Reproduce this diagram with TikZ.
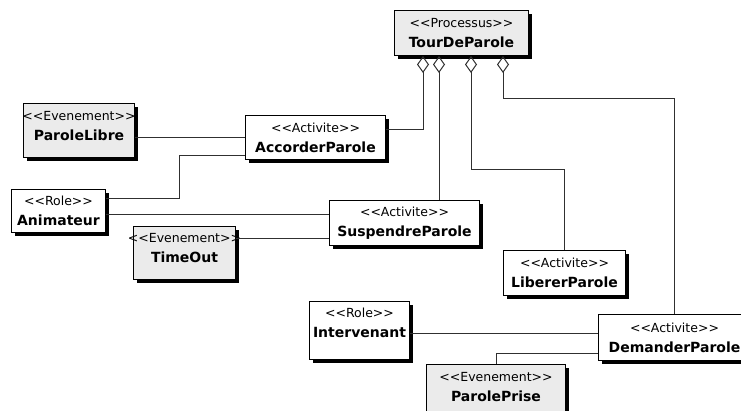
\documentclass[tikz,border=0pt]{standalone}
\usepackage{fontspec}
\newfontfamily\umlfont[Ligatures=TeXOff]{DejaVu Sans}
\usetikzlibrary{arrows.meta,shadows}
\definecolor{umlInk}{HTML}{000000}
\definecolor{umlLine}{HTML}{303030}
\definecolor{umlGray}{HTML}{EBEBEB}
\newcommand{\stereo}[1]{\makebox[0pt]{\fontsize{12.5}{14}\selectfont <<#1>>}}
\tikzset{
  uml box/.style={draw=umlInk, line width=1pt, fill=white, anchor=north west,
    inner sep=0pt, align=center, font=\umlfont\fontsize{14}{20}\selectfont,
    drop shadow={shadow xshift=3pt, shadow yshift=-3pt, opacity=1, fill=umlInk}},
  uml event/.style={uml box, fill=umlGray},
  uml raise/.style={text depth=#1},
  uml link/.style={draw=umlLine, line width=1pt},
  uml agg/.style={uml link, {Diamond[open,length=17pt,width=12pt,line width=1pt]}-}
}

\begin{document}
\begin{tikzpicture}[x=1pt,y=-1pt]
  \useasboundingbox (0,0) rectangle (741,410);
  \clip (0,0) rectangle (741,410);
  % classes
  \node[uml event, minimum width=134pt, minimum height=45pt] (tour) at (394,10) {\stereo{Processus}\\\textbf{TourDeParole}};
  \node[uml event, minimum width=111pt, minimum height=54pt, uml raise=10pt] (libre) at (23,103) {\stereo{Evenement}\\\textbf{ParoleLibre}};
  \node[uml box, minimum width=140pt, minimum height=44pt] (accorder) at (245,115) {\stereo{Activite}\\\textbf{AccorderParole}};
  \node[uml box, minimum width=94pt, minimum height=43pt] (animateur) at (11,189) {\stereo{Role}\\\textbf{Animateur}};
  \node[uml box, minimum width=150pt, minimum height=45pt] (suspendre) at (329,200) {\stereo{Activite}\\\textbf{SuspendreParole}};
  \node[uml event, minimum width=102pt, minimum height=53pt, uml raise=10pt] (timeout) at (133,226) {\stereo{Evenement}\\\textbf{TimeOut}};
  \node[uml box, minimum width=122pt, minimum height=45pt] (liberer) at (503,250) {\stereo{Activite}\\\textbf{LibererParole}};
  \node[uml box, minimum width=100pt, minimum height=58pt, uml raise=16pt] (intervenant) at (309,301) {\stereo{Role}\\\textbf{Intervenant}};
  \node[uml box, minimum width=152pt, minimum height=46pt] (demander) at (598,314) {\stereo{Activite}\\\textbf{DemanderParole}};
  \node[uml event, minimum width=139pt, minimum height=52pt, uml raise=8pt] (prise) at (426,364) {\stereo{Evenement}\\\textbf{ParolePrise}};
  % aggregations
  \coordinate (d1) at ([xshift=29pt]tour.south west);
  \coordinate (d2) at ([xshift=45pt]tour.south west);
  \coordinate (d3) at ([xshift=77pt]tour.south west);
  \coordinate (d4) at ([xshift=109pt]tour.south west);
  \draw[uml agg] (d1) |- ([yshift=8pt]accorder.east);
  \draw[uml agg] (d2) -- (d2 |- suspendre.north);
  \draw[uml agg] (d3) -- ++(0,113) -| (liberer.north);
  \draw[uml agg] (d4) -- ++(0,42) -| (demander.north);
  % associations
  \draw[uml link] (accorder.west) -- (accorder.west -| libre.east);
  \coordinate (a1) at ([yshift=13pt]animateur.east);
  \draw[uml link] (a1) -- ++(73,0) |- ([yshift=-18pt]accorder.west);
  \coordinate (s1) at ([yshift=9pt]suspendre.west);
  \draw[uml link] (s1) -- (s1 -| animateur.east);
  \coordinate (s2) at ([yshift=-15pt]suspendre.west);
  \draw[uml link] (s2) -- (s2 -| timeout.east);
  \coordinate (m1) at ([yshift=4pt]demander.west);
  \draw[uml link] (m1) -- (m1 -| intervenant.east);
  \draw[uml link] ([yshift=-16pt]demander.west) -| (prise.north);
\end{tikzpicture}
\end{document}
